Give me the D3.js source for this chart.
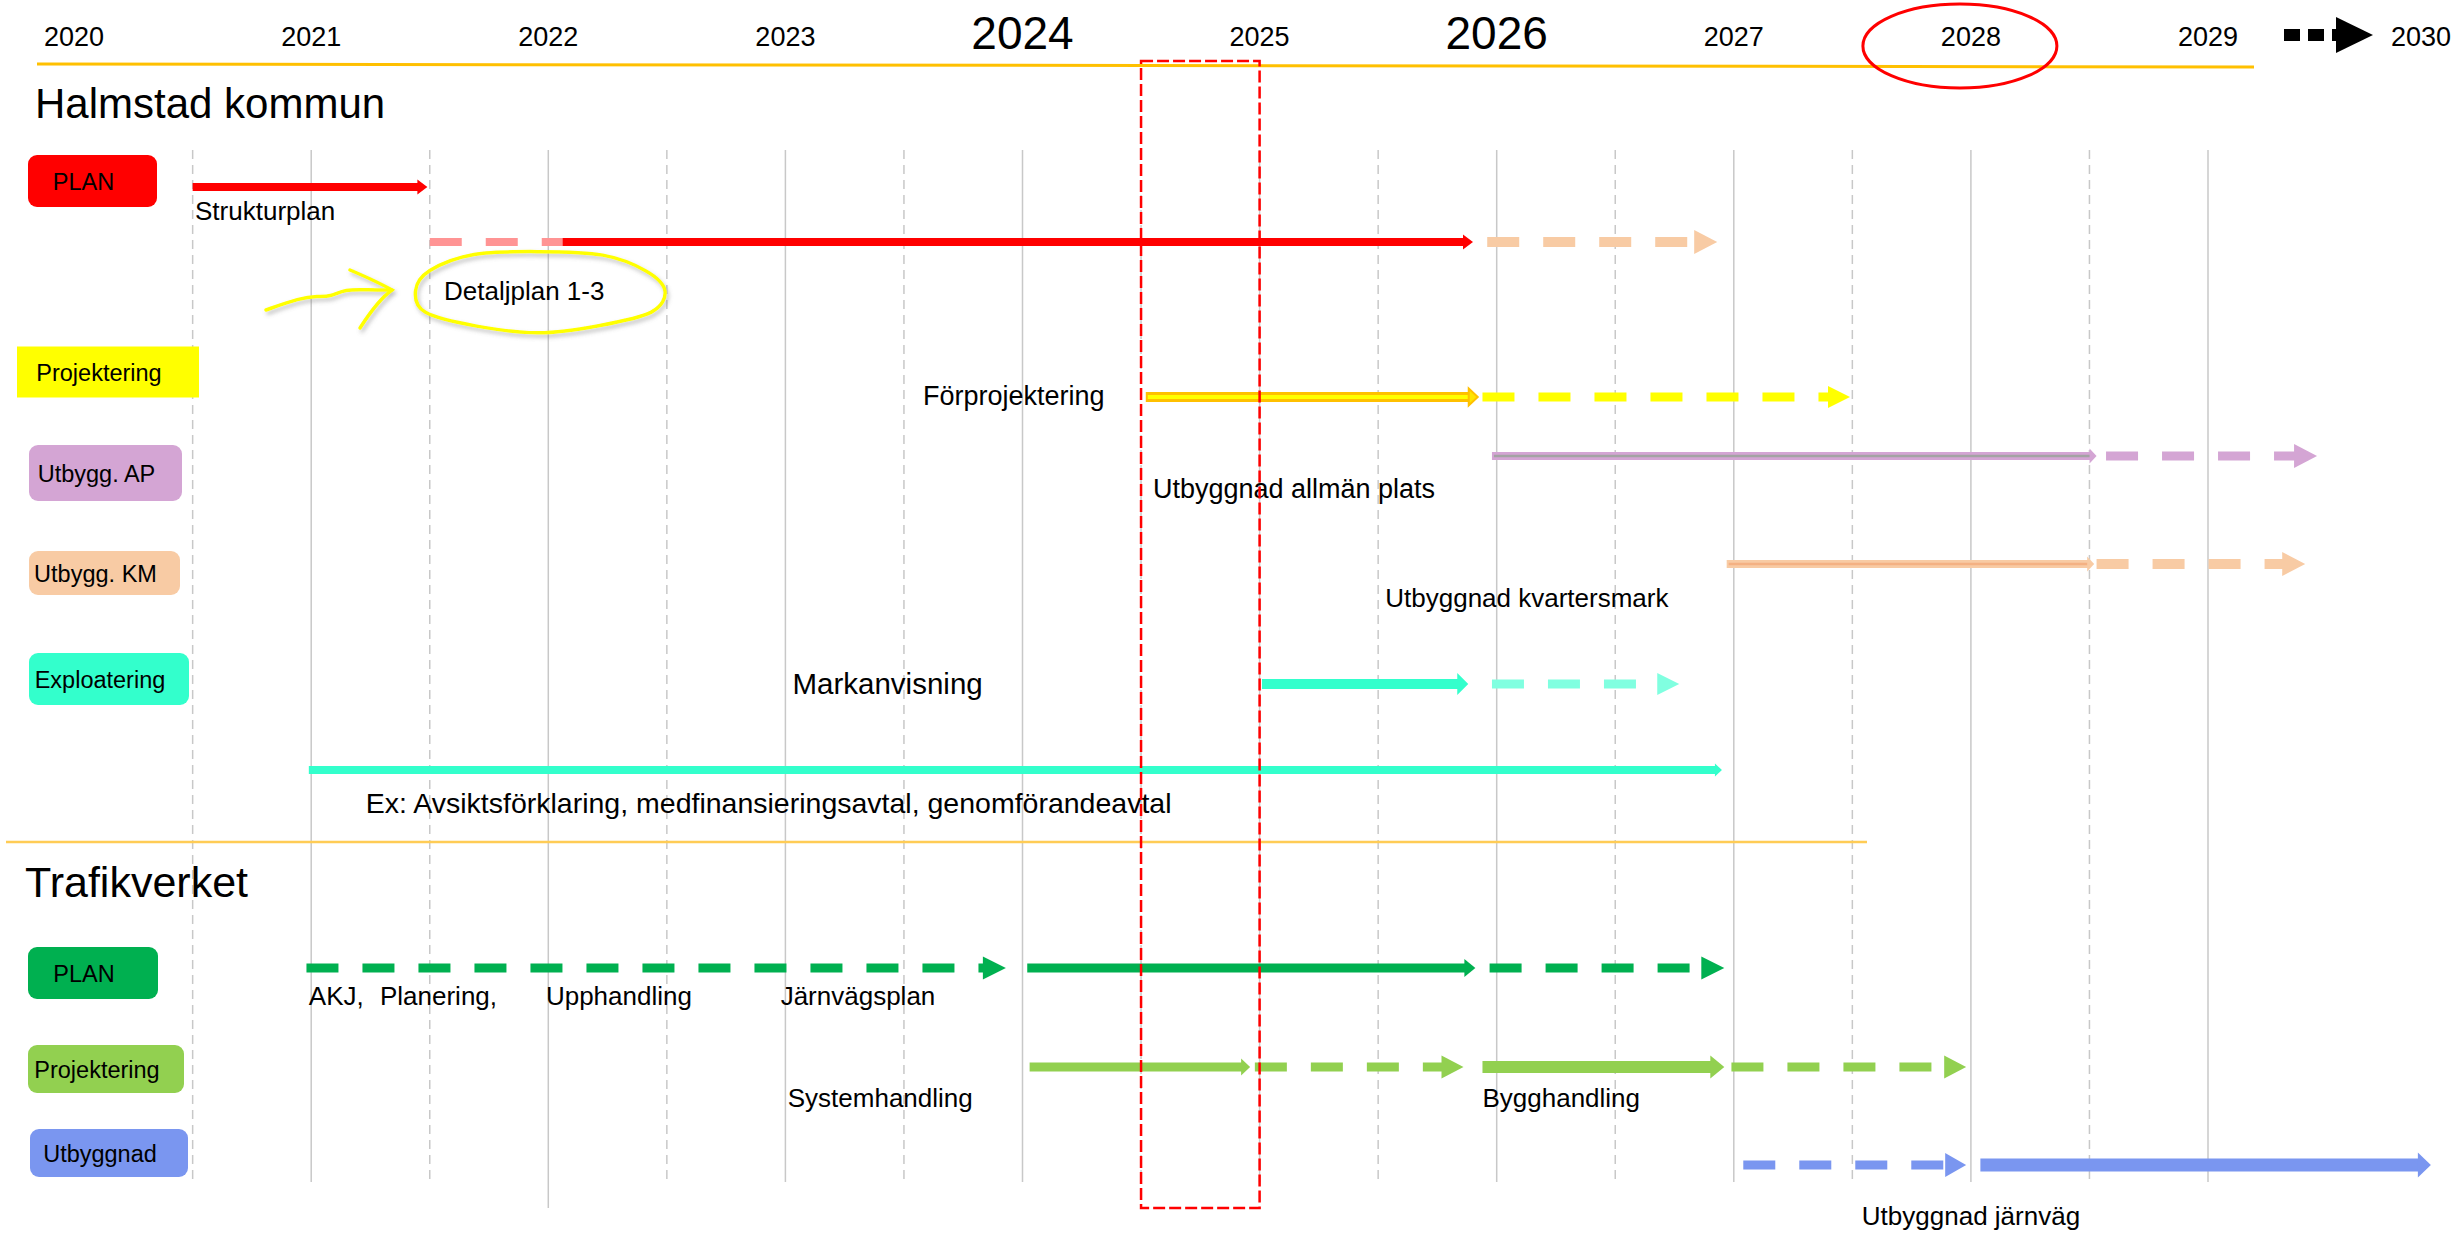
<!DOCTYPE html>
<html>
<head>
<meta charset="utf-8">
<script src="https://d3js.org/d3.v7.min.js"></script>
<style>
  body { margin: 0; background: #fff; }
  text { font-family: "Liberation Sans", Arial, sans-serif; fill: #000; }
</style>
</head>
<body>
<svg id="timeline" width="2456" height="1234"></svg>
<script>
// --- data -------------------------------------------------------------
const years = [2020, 2021, 2022, 2023, 2024, 2025, 2026, 2027, 2028, 2029];
const bigYears = [2024, 2026];
const lastYear = 2030;
const circledYear = 2028;
const highlight = [2024.5, 2025];

const sections = ["Halmstad kommun", "Trafikverket"];
const categories = ["PLAN", "Projektering", "Utbygg. AP", "Utbygg. KM", "Exploatering",
                    "PLAN", "Projektering", "Utbyggnad"];
const categoryColors = ["#FF0000", "#FFFF00", "#D4A5D4", "#F8CBA4", "#33FFCC",
                        "#00B050", "#92D050", "#7A96F0"];

const lanes = ["strukturplan", "detaljplan", "forproj", "ap", "km", "mark", "avtal",
               "trvPlan", "trvProj", "trvUtb"];

// [lane, from year, to year, kind]
const segments = [
  ["strukturplan", 2020.5, 2021.49, "red"],
  ["detaljplan", 2021.5, 2022.06, "pinkDash"],
  ["detaljplan", 2022.06, 2025.9, "red"],
  ["detaljplan", 2025.96, 2026.93, "peachDash"],
  ["forproj", 2024.52, 2025.92, "orange"],
  ["forproj", 2025.94, 2027.49, "yellowDash"],
  ["ap", 2025.98, 2028.53, "purple"],
  ["ap", 2028.57, 2029.46, "purpleDash"],
  ["km", 2026.97, 2028.52, "peach"],
  ["km", 2028.53, 2029.41, "peachDash"],
  ["mark", 2025.01, 2025.88, "aqua"],
  ["mark", 2025.98, 2026.77, "aquaDash"],
  ["avtal", 2020.99, 2026.95, "aquaThin"],
  ["trvPlan", 2020.98, 2023.93, "greenDash"],
  ["trvPlan", 2024.02, 2025.91, "green"],
  ["trvPlan", 2025.97, 2026.96, "greenDash"],
  ["trvProj", 2024.03, 2024.96, "lime"],
  ["trvProj", 2024.98, 2025.86, "limeDash"],
  ["trvProj", 2025.94, 2026.96, "limeThick"],
  ["trvProj", 2026.99, 2027.98, "limeDash"],
  ["trvUtb", 2027.04, 2027.98, "blueDash"],
  ["trvUtb", 2028.04, 2029.94, "blue"]
];

// [text, lane, year]
const labels = [
  ["Strukturplan", "strukturplan", 2020.51],
  ["Detaljplan 1-3", "detaljplan", 2021.56],
  ["Förprojektering", "forproj", 2023.58],
  ["Utbyggnad allmän plats", "ap", 2024.55],
  ["Utbyggnad kvartersmark", "km", 2025.53],
  ["Markanvisning", "mark", 2023.03],
  ["Ex: Avsiktsförklaring, medfinansieringsavtal, genomförandeavtal", "avtal", 2021.23],
  ["AKJ,", "trvPlan", 2020.99],
  ["Planering,", "trvPlan", 2021.29],
  ["Upphandling", "trvPlan", 2021.99],
  ["Järnvägsplan", "trvPlan", 2022.98],
  ["Systemhandling", "trvProj", 2023.01],
  ["Bygghandling", "trvProj", 2025.94],
  ["Utbyggnad järnväg", "trvUtb", 2027.54]
];

// --- layout -----------------------------------------------------------
const laneY = d3.scaleOrdinal().domain(lanes)
  .range([187, 242, 397, 456, 564, 684, 770, 968, 1067, 1165]);
const labelDy = { strukturplan: 33, detaljplan: 58, forproj: 8, ap: 42, km: 43, mark: 10,
                  avtal: 43, trvPlan: 37, trvProj: 40, trvUtb: 60 };
const labelSize = { mark: "29.5px", avtal: "28.5px", ap: "27px", forproj: "27px" };
const boxY = [181, 372, 473, 573, 679, 973, 1069, 1153];
const boxW = [129, 182, 153, 151, 160, 130, 156, 158];
const boxH = [52, 51, 56, 44, 52, 52, 48, 48];
const boxX = [28, 17, 29, 29, 29, 28, 28, 30];

const segStyle = {
  red:        { color: "#FF0000", w: 8,  hl: 9,  hh: 15 },
  pinkDash:   { color: "#FF9494", w: 8,  dash: true },
  peachDash:  { color: "#F8CBA4", w: 10, dash: true, hl: 22, hh: 24 },
  orange:     { color: "#FFC000", inner: "#FFFF00", iw: 4, w: 10, hl: 8, hh: 17 },
  yellowDash: { color: "#FFFF00", w: 9,  dash: true, hl: 21, hh: 22 },
  purple:     { color: "#D4A5D4", inner: "#A3A3A3", iw: 2.5, w: 8, hl: 6, hh: 15 },
  purpleDash: { color: "#D4A5D4", w: 9,  dash: true, hl: 22, hh: 24 },
  peach:      { color: "#F8CBA4", inner: "#F4B183", iw: 2.5, w: 8, hl: 6, hh: 15 },
  aqua:       { color: "#33FFCC", w: 10, hl: 10, hh: 22 },
  aquaDash:   { color: "#80FFE0", w: 9,  dash: true, hl: 21, hh: 22 },
  aquaThin:   { color: "#33FFCC", w: 8,  hl: 6,  hh: 13 },
  greenDash:  { color: "#00B050", w: 9,  dash: true, hl: 22, hh: 23 },
  green:      { color: "#00B050", w: 9,  hl: 10, hh: 18 },
  lime:       { color: "#92D050", w: 9,  hl: 8,  hh: 17 },
  limeDash:   { color: "#92D050", w: 9,  dash: true, hl: 21, hh: 23 },
  limeThick:  { color: "#92D050", w: 12, hl: 13, hh: 23 },
  blueDash:   { color: "#7A96F0", w: 9,  dash: true, hl: 20, hh: 24 },
  blue:       { color: "#7A96F0", w: 13, hl: 12, hh: 25 }
};

const svg = d3.select("#timeline");
const x = d3.scaleLinear().domain([2025, 2026]).range([1259.6, 1496.7]);

svg.append("rect").attr("width", 2456).attr("height", 1234).attr("fill", "#fff");

const defs = svg.append("defs");
defs.append("filter").attr("id", "shadow")
  .attr("x", "-10%").attr("y", "-20%").attr("width", "130%").attr("height", "150%")
  .append("feDropShadow")
  .attr("dx", 2).attr("dy", 3).attr("stdDeviation", 2)
  .attr("flood-color", "#777").attr("flood-opacity", 0.45);

// gridlines: solid on whole years, dashed on half years
const gridTicks = d3.range(2020.5, 2029.01, 0.5);
svg.append("g").selectAll("line").data(gridTicks).join("line")
  .attr("x1", d => x(d)).attr("x2", d => x(d))
  .attr("y1", 150).attr("y2", d => d === 2022 ? 1208 : 1182)
  .attr("stroke", "#C8C8C8").attr("stroke-width", 1.5)
  .attr("stroke-dasharray", d => d % 1 ? "9,6" : null);

// top year axis
svg.append("line").attr("x1", 37).attr("x2", 2254).attr("y1", 64).attr("y2", 67)
  .attr("stroke", "#FFC000").attr("stroke-width", 3);
svg.append("g").selectAll("text").data(years).join("text")
  .attr("x", d => x(d)).attr("y", d => bigYears.includes(d) ? 49 : 46)
  .attr("text-anchor", "middle")
  .style("font-size", d => bigYears.includes(d) ? "46px" : "27px")
  .text(d => d);

const iconX = x(2029) + 76;
svg.append("line").attr("x1", iconX).attr("x2", iconX + 56).attr("y1", 35).attr("y2", 35)
  .attr("stroke", "#000").attr("stroke-width", 12).attr("stroke-dasharray", "16,8");
svg.append("path")
  .attr("d", `M${iconX + 52},17L${iconX + 89},35L${iconX + 52},53Z`).attr("fill", "#000");
svg.append("text").attr("x", iconX + 107).attr("y", 46).style("font-size", "27px").text(lastYear);

svg.append("ellipse").attr("cx", x(circledYear) - 11).attr("cy", 46)
  .attr("rx", 97).attr("ry", 42)
  .attr("fill", "none").attr("stroke", "#FF0000").attr("stroke-width", 3);

// section titles and separator
svg.append("text").attr("x", 35).attr("y", 118).style("font-size", "42px").text(sections[0]);
svg.append("line").attr("x1", 6).attr("x2", 1867).attr("y1", 842).attr("y2", 842)
  .attr("stroke", "#FFCC55").attr("stroke-width", 2.5);
svg.append("text").attr("x", 25).attr("y", 897).style("font-size", "43px").text(sections[1]);

// category boxes
const boxes = svg.append("g").selectAll("g").data(categories).join("g");
boxes.append("rect")
  .attr("x", (d, i) => boxX[i]).attr("y", (d, i) => boxY[i] - boxH[i] / 2)
  .attr("width", (d, i) => boxW[i]).attr("height", (d, i) => boxH[i])
  .attr("rx", (d, i) => i === 1 ? 0 : 9)
  .attr("fill", (d, i) => categoryColors[i]);
boxes.append("text")
  .attr("x", (d, i) => boxX[i] + boxW[i] / 2 - 9).attr("y", (d, i) => boxY[i] + 9)
  .attr("text-anchor", "middle").style("font-size", "23.5px")
  .text(d => d);

// arrows
const arrows = svg.append("g").selectAll("g").data(segments).join("g");
const headBase = d => {
  const s = segStyle[d[3]];
  return s.hl ? x(d[2]) - s.hl : x(d[2]);
};
arrows.append("line")
  .attr("x1", d => x(d[1])).attr("x2", headBase)
  .attr("y1", d => laneY(d[0])).attr("y2", d => laneY(d[0]))
  .attr("stroke", d => segStyle[d[3]].color)
  .attr("stroke-width", d => segStyle[d[3]].w)
  .attr("stroke-dasharray", d => segStyle[d[3]].dash ? "32,24" : null);
arrows.filter(d => segStyle[d[3]].inner).append("line")
  .attr("x1", d => x(d[1]) + 2).attr("x2", headBase)
  .attr("y1", d => laneY(d[0])).attr("y2", d => laneY(d[0]))
  .attr("stroke", d => segStyle[d[3]].inner)
  .attr("stroke-width", d => segStyle[d[3]].iw);
arrows.filter(d => segStyle[d[3]].hl).append("path")
  .attr("d", d => {
    const s = segStyle[d[3]], y = laneY(d[0]), b = headBase(d);
    return `M${b - 1},${y - s.hh / 2}L${x(d[2])},${y}L${b - 1},${y + s.hh / 2}Z`;
  })
  .attr("fill", d => d[3] === "orange" ? "#FFE400" : segStyle[d[3]].color)
  .attr("stroke", d => d[3] === "orange" ? "#FFC000" : "none")
  .attr("stroke-width", 2);

// labels
svg.append("g").selectAll("text").data(labels).join("text")
  .attr("x", d => x(d[2])).attr("y", d => laneY(d[1]) + labelDy[d[1]])
  .style("font-size", d => labelSize[d[1]] || "26px")
  .text(d => d[0]);

// hand-drawn yellow highlight around "Detaljplan 1-3"
const ring = [1, 1.03, 0.97, 1.02, 0.99, 1.04, 0.98, 1.0, 1.03, 0.96, 1.01, 0.98];
const ringCx = 539, ringCy = 291, ringRx = 126, ringRy = 41;
const ringPts = ring.map((k, i) => {
  const a = i / ring.length * 2 * Math.PI;
  return [ringCx + Math.cos(a) * ringRx * k, ringCy + Math.sin(a) * ringRy * k];
});
const anno = svg.append("g").attr("filter", "url(#shadow)")
  .attr("fill", "none").attr("stroke", "#FFFF00").attr("stroke-width", 3.5)
  .attr("stroke-linecap", "round");
anno.append("path").attr("d", d3.line().curve(d3.curveCardinalClosed)(ringPts));
anno.append("path").attr("d", d3.line().curve(d3.curveBasis)(
  [[266, 310], [300, 298], [318, 296], [330, 297], [345, 289], [368, 290], [392, 290]]));
anno.append("path").attr("d", "M350,270Q378,282 392,290Q378,300 360,328");

// highlighted period
svg.append("rect")
  .attr("x", x(highlight[0])).attr("width", x(highlight[1]) - x(highlight[0]))
  .attr("y", 61).attr("height", 1147)
  .attr("fill", "none").attr("stroke", "#FF0000").attr("stroke-width", 2.5)
  .attr("stroke-dasharray", "12,4");
</script>
</body>
</html>
